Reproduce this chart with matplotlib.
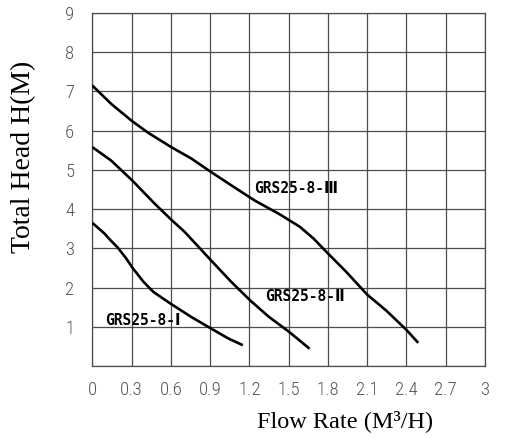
import matplotlib
matplotlib.use("Agg")
import matplotlib.pyplot as plt

# ============= DATA =============
flow_1 = [0.0, 0.092, 0.135, 0.194, 0.257, 0.308, 0.39, 0.466, 0.593, 0.756, 0.905, 1.04, 1.15]
head_1 = [3.65, 3.38, 3.22, 3.02, 2.75, 2.50, 2.15, 1.89, 1.60, 1.25, 0.96, 0.70, 0.53]

flow_2 = [0.0, 0.143, 0.305, 0.476, 0.60, 0.705, 0.905, 1.06, 1.21, 1.35, 1.50, 1.66]
head_2 = [5.58, 5.24, 4.73, 4.14, 3.74, 3.42, 2.70, 2.15, 1.66, 1.25, 0.88, 0.44]

flow_3 = [0.0, 0.145, 0.305, 0.425, 0.603, 0.756, 0.905, 1.06, 1.24, 1.43, 1.585,
          1.69, 1.80, 1.94, 2.10, 2.25, 2.40, 2.49]
head_3 = [7.15, 6.68, 6.24, 5.95, 5.58, 5.29, 4.95, 4.61, 4.22, 3.87, 3.55,
          3.25, 2.87, 2.40, 1.82, 1.40, 0.92, 0.59]

curve_names = ["GRS25-8-Ⅰ", "GRS25-8-Ⅱ", "GRS25-8-Ⅲ"]
label_x = [0.10, 1.32, 1.24]
label_y = [1.15, 1.78, 4.53]

x_ticks = [0, 0.3, 0.6, 0.9, 1.2, 1.5, 1.8, 2.1, 2.4, 2.7, 3.0]
x_tick_labels = ["0", "0.3", "0.6", "0.9", "1.2", "1.5", "1.8", "2.1", "2.4", "2.7", "3"]
y_ticks = [1, 2, 3, 4, 5, 6, 7, 8, 9]
y_grid = [0, 1, 2, 3, 4, 5, 6, 7, 8, 9]

# ============= FIGURE =============
fig = plt.figure(figsize=(5.08, 4.38), dpi=100)
ax = fig.add_axes([0.1817, 0.1644, 0.773, 0.806])

grid_color = "#4d4d4d"
for xv in x_ticks:
    ax.axvline(xv, color=grid_color, lw=0.9, zorder=1)
for yv in y_grid:
    ax.axhline(yv, color=grid_color, lw=0.9, zorder=1)

for fl, hd in [(flow_1, head_1), (flow_2, head_2), (flow_3, head_3)]:
    ax.plot(fl, hd, color="black", lw=1.9, solid_capstyle="butt",
            solid_joinstyle="round", zorder=3)

for name, lx, ly in zip(curve_names, label_x, label_y):
    ax.text(lx, ly, name, ha="left", va="center", fontsize=10.5, fontweight="bold",
            family=["DejaVu Sans Mono", "DejaVu Sans"], zorder=4)

ax.set_xlim(0, 3)
ax.set_ylim(0, 9)
ax.set_xticks(x_ticks)
ax.set_xticklabels(x_tick_labels)
ax.set_yticks(y_ticks)
ax.set_yticklabels([str(v) for v in y_ticks])
tick_font = ["Roboto Condensed", "Roboto", "DejaVu Sans"]
for lab in ax.get_xticklabels() + ax.get_yticklabels():
    lab.set_family(tick_font)
    lab.set_fontweight("light")
    lab.set_fontsize(13.5)
    lab.set_color("#555555")
ax.tick_params(axis="x", length=0, pad=10.5)
ax.tick_params(axis="y", length=0, pad=13)
for sp in ax.spines.values():
    sp.set_color(grid_color)
    sp.set_linewidth(0.9)

fig.text(345 / 508, 1 - 421 / 438, "Flow Rate (M³/H)", ha="center", va="center",
         fontsize=17.5, family=["Liberation Serif", "DejaVu Serif"])
fig.text(24 / 508, 1 - 157 / 438, "Total Head H(M)", ha="center", va="center",
         rotation=90, fontsize=20, family=["Liberation Serif", "DejaVu Serif"])

fig.savefig("out.png", dpi=100)
